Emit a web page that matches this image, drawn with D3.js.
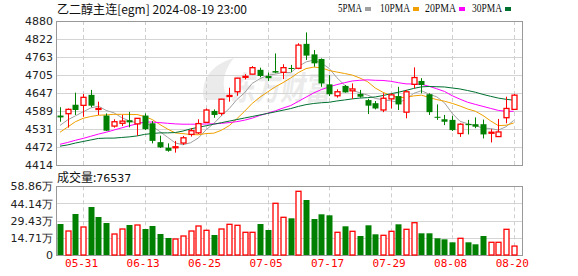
<!DOCTYPE html>
<html><head><meta charset="utf-8">
<script src="https://cdn.jsdelivr.net/npm/d3@7"></script>
<style>body{margin:0;background:#fff;} svg{display:block;}</style>
</head><body>
<svg id="c" width="578" height="276"></svg>
<script>
const dates = ["05-28","05-29","05-30","05-31","06-03","06-04","06-05","06-06","06-07","06-11","06-12","06-13","06-14","06-17","06-18","06-19","06-20","06-21","06-24","06-25","06-26","06-27","06-28","07-01","07-02","07-03","07-04","07-05","07-08","07-09","07-10","07-11","07-12","07-15","07-16","07-17","07-18","07-19","07-22","07-23","07-24","07-25","07-26","07-29","07-30","07-31","08-01","08-02","08-05","08-06","08-07","08-08","08-09","08-12","08-13","08-14","08-15","08-16","08-19","08-20"];
const opens = [4574,4580,4609,4607,4641,4594,4574,4540,4549,4559,4547,4574,4549,4488,4470,4470,4485,4513,4518,4552,4589,4581,4637,4651,4699,4708,4722,4702,4718,4714,4728,4727,4806,4772,4757,4675,4638,4670,4654,4644,4624,4614,4592,4628,4637,4585,4675,4686,4643,4570,4562,4560,4516,4547,4546,4546,4517,4506,4567,4594];
const highs = [4601,4597,4648,4644,4657,4619,4581,4562,4576,4586,4566,4581,4556,4509,4484,4492,4508,4533,4562,4597,4594,4628,4664,4696,4708,4734,4729,4713,4775,4740,4738,4808,4843,4786,4759,4705,4659,4673,4678,4657,4628,4621,4646,4646,4667,4657,4730,4695,4646,4610,4576,4573,4549,4560,4568,4561,4530,4563,4635,4644];
const lows = [4554,4535,4576,4570,4601,4576,4524,4535,4540,4536,4509,4527,4484,4469,4457,4454,4479,4506,4514,4550,4567,4574,4619,4638,4691,4707,4698,4686,4711,4692,4714,4724,4754,4732,4667,4637,4632,4648,4628,4632,4579,4594,4585,4597,4592,4565,4662,4646,4576,4560,4543,4524,4505,4513,4533,4500,4487,4505,4549,4592];
const closes = [4568,4594,4592,4633,4606,4597,4525,4554,4556,4552,4565,4530,4492,4471,4460,4473,4502,4525,4548,4592,4576,4627,4639,4695,4701,4729,4702,4695,4713,4729,4726,4802,4768,4743,4678,4643,4651,4649,4660,4635,4606,4597,4630,4641,4610,4651,4697,4673,4585,4567,4554,4527,4546,4543,4538,4513,4520,4521,4597,4640];
const volumes = [265600,205600,351300,239900,411200,325600,274200,179900,222800,257000,257000,222800,248500,179900,145700,137100,162800,205600,248500,211600,171400,222800,263000,254500,194500,194500,265600,214200,443000,323000,314400,545700,471200,308400,348700,340100,194500,245900,203000,162800,254500,177300,168800,203000,263000,220200,276700,185900,185900,143100,134500,108800,143100,108800,91700,162800,108800,108800,220200,76537];
const ma5 = [4542,4560,4573,4586,4598.6,4604.4,4590.6,4583,4567.6,4556.8,4550.4,4551.4,4539,4522,4503.6,4485.2,4479.6,4486.2,4501.6,4528,4548.6,4573.6,4596.4,4625.8,4647.6,4678.2,4693.2,4704.4,4708,4713.6,4713,4733,4747.6,4753.6,4743.4,4726.8,4696.6,4672.8,4656.2,4647.6,4640.2,4629.4,4625.6,4621.8,4616.8,4625.8,4645.8,4654.4,4643.2,4634.6,4615.2,4581.2,4555.8,4547.4,4541.6,4533.4,4532,4527,4537.8,4558.2];
const ma10 = [4520,4537,4554,4565,4571,4575,4576,4578,4578,4577.7,4577.4,4571,4561,4544.8,4530.2,4517.8,4515.5,4512.6,4511.8,4515.8,4516.9,4526.6,4541.3,4563.7,4587.8,4613.4,4633.4,4650.4,4666.9,4680.6,4695.6,4713.1,4726,4730.8,4728.5,4719.9,4714.8,4710.2,4704.9,4695.5,4683.5,4663,4649.2,4639,4632.2,4633,4637.6,4640,4632.5,4625.7,4620.5,4613.5,4605.1,4595.3,4588.1,4574.3,4556.6,4541.4,4542.6,4549.9];
const ma20 = [4481,4487,4494,4500,4507,4514,4520,4527,4534,4541,4547,4553,4553,4551,4549,4547,4546,4546,4546,4546.8,4547.2,4548.8,4551.2,4554.3,4559,4565.6,4574.5,4581.5,4589.4,4598.2,4606.3,4619.9,4633.7,4647.3,4658.2,4666.7,4674.1,4680.3,4685.9,4688.1,4689.6,4688.1,4687.6,4684.9,4680.4,4676.5,4676.2,4675.1,4668.7,4660.6,4652,4638.3,4627.2,4617.2,4610.2,4603.7,4597.1,4590.7,4587.6,4587.8];
const ma30 = [4475,4479,4485,4490,4495,4500,4501,4501,4503,4505,4508,4513,4516,4518,4518,4519,4524,4531,4536,4541,4546,4551,4556,4561,4566,4571,4576,4581,4586,4591.4,4596.6,4603.6,4609.4,4613.1,4615.5,4617,4621.2,4624.4,4627.9,4630.6,4632,4634.2,4638.8,4644.5,4649.5,4655.4,4661.9,4666.9,4668.1,4667.3,4666.5,4663.2,4660.1,4655,4649.6,4642.4,4636.3,4630.5,4626.7,4623.7];
const priceTicks = [4414,4472.25,4530.5,4588.75,4647,4705.25,4763.5,4821.75,4880];
const priceTickLabels = ["4414","4472","4531","4589","4647","4705","4763","4822","4880"];
const volTicks = [0,147150,294300,441450,588600];
const volTickLabels = ["0","14.71万","29.43万","44.14万","58.86万"];
const dateLabels = ["05-31","06-13","06-25","07-05","07-17","07-29","08-08","08-20"];
const maNames = ["5PMA","10PMA","20PMA","30PMA"];
const maColors = ["#a0a0a0","#f0a000","#ff00ff","#007030"];
const titleText = "乙二醇主连[egm] 2024-08-19 23:00";
const volTitle = "成交量:";
const lastVolume = "76537";

const svg = d3.select("#c");
const pL = 56, pR = 522, pT = 21, pB = 165;
const vT = 186.3, vB = 255;
const RED = "#ff0000", GREEN = "#008000";

const x = d3.scalePoint().domain(dates).range([60, 513.7]);
const y = d3.scaleLinear().domain([4414, 4880]).range([pB, pT]);
const yv = d3.scaleLinear().domain([0, 588600]).range([vB, vT]);

// watermark
const wm = svg.append("g");
wm.append("text").attr("x", 232).attr("y", 100).attr("font-family", "Noto Sans CJK SC").attr("font-weight", "bold")
  .attr("font-size", 33).attr("fill", "#ebebeb").attr("textLength", 100).attr("lengthAdjust", "spacingAndGlyphs")
  .attr("transform", "skewX(-8) translate(12,0)").text("东方财富");
wm.append("path").attr("d", "M204,100 C200,80 212,64 234,58 C224,70 220,84 228,100 Z").attr("fill", "#ebebeb");

// grids
function grid(yScale, ticks, top, bot) {
  svg.append("g").selectAll("line").data(ticks).join("line")
    .attr("x1", pL).attr("x2", pR)
    .attr("y1", d => Math.round(yScale(d)) + 0.5).attr("y2", d => Math.round(yScale(d)) + 0.5)
    .attr("stroke", "#d4d4d4").attr("stroke-width", 1);
  svg.append("g").selectAll("line").data(dateLabels).join("line")
    .attr("x1", d => Math.round(x(d)) + 0.5).attr("x2", d => Math.round(x(d)) + 0.5)
    .attr("y1", top).attr("y2", bot)
    .attr("stroke", "#cfcfcf").attr("stroke-dasharray", "4,3");
}
grid(y, priceTicks, pT, pB);
grid(yv, volTicks, vT, vB);

// frames
svg.append("rect").attr("x", pL + 0.5).attr("y", pT + 0.5).attr("width", pR - pL).attr("height", pB - pT)
  .attr("fill", "none").attr("stroke", "#999");
svg.append("rect").attr("x", pL + 0.5).attr("y", Math.round(vT) + 0.5).attr("width", pR - pL).attr("height", vB - Math.round(vT))
  .attr("fill", "none").attr("stroke", "#999");

// axes
const yAxis = d3.axisLeft(y).tickValues(priceTicks).tickFormat((d, i) => priceTickLabels[i]).tickSize(0).tickPadding(3);
const ga = svg.append("g").attr("transform", `translate(${pL},0)`).call(yAxis);
ga.select(".domain").remove();
ga.selectAll("text").attr("font-family", "DejaVu Sans").attr("font-size", 11).attr("fill", "#222");

const vAxis = d3.axisLeft(yv).tickValues(volTicks).tickFormat((d, i) => volTickLabels[i]).tickSize(0).tickPadding(3);
const gv = svg.append("g").attr("transform", `translate(${pL},0)`).call(vAxis);
gv.select(".domain").remove();
gv.selectAll("text").attr("font-family", "DejaVu Sans").attr("font-size", 11).attr("fill", "#222");

const xAxis = d3.axisBottom(x).tickValues(dateLabels).tickSize(0).tickPadding(4);
const gx = svg.append("g").attr("transform", `translate(-2,${vB})`).call(xAxis);
gx.select(".domain").remove();
gx.selectAll("text").attr("font-family", "DejaVu Sans Mono").attr("font-size", 11).attr("fill", RED);

// MA lines
const mas = [ma5, ma10, ma20, ma30];
mas.forEach((arr, k) => {
  const line = d3.line().x((d, i) => x(dates[i])).y(d => y(d));
  svg.append("path").attr("d", line(arr)).attr("fill", "none").attr("stroke", maColors[k]).attr("stroke-width", 1);
});

// candles
const bw = 5;
const cg = svg.append("g");
dates.forEach((d, i) => {
  const col = closes[i] > opens[i] ? RED : GREEN;
  const cx = Math.round(x(d)) + 0.5;
  const yTop = y(Math.max(opens[i], closes[i])), yBot = y(Math.min(opens[i], closes[i]));
  const h = Math.max(1, yBot - yTop);
  if (col === RED) {
    cg.append("line").attr("x1", cx).attr("x2", cx).attr("y1", y(highs[i])).attr("y2", yTop).attr("stroke", col);
    cg.append("line").attr("x1", cx).attr("x2", cx).attr("y1", yBot).attr("y2", y(lows[i])).attr("stroke", col);
    cg.append("rect").attr("x", cx - bw / 2).attr("y", yTop).attr("width", bw).attr("height", h)
      .attr("fill", "#fff").attr("stroke", col).attr("stroke-width", 1.3);
  } else {
    cg.append("line").attr("x1", cx).attr("x2", cx).attr("y1", y(highs[i])).attr("y2", y(lows[i])).attr("stroke", col);
    cg.append("rect").attr("x", cx - bw / 2 - 0.5).attr("y", yTop).attr("width", bw + 1).attr("height", h)
      .attr("fill", col);
  }
});

// volume bars
const vg = svg.append("g");
dates.forEach((d, i) => {
  const upv = i === 0 ? closes[i] >= opens[i] : closes[i] >= closes[i - 1];
  const cx = Math.round(x(d)) + 0.5;
  const top = yv(volumes[i]);
  if (upv) {
    vg.append("rect").attr("x", cx - bw / 2).attr("y", top).attr("width", bw).attr("height", vB - top)
      .attr("fill", "#fff").attr("stroke", RED).attr("stroke-width", 1.3);
  } else {
    vg.append("rect").attr("x", cx - bw / 2 - 0.5).attr("y", top).attr("width", bw + 1).attr("height", vB - top)
      .attr("fill", GREEN);
  }
});

// title
svg.append("text").attr("x", 57).attr("y", 14).attr("font-family", "Noto Sans CJK SC, DejaVu Sans Mono")
  .attr("font-size", 12).attr("fill", "#111").attr("textLength", 190).attr("lengthAdjust", "spacingAndGlyphs").text(titleText);

// legend
const legX = [338, 380, 425, 472];
const legW = [24, 30, 31, 30];
maNames.forEach((n, k) => {
  svg.append("text").attr("x", legX[k]).attr("y", 12).attr("font-family", "Liberation Serif")
    .attr("font-size", 13).attr("fill", "#111").attr("textLength", legW[k]).attr("lengthAdjust", "spacingAndGlyphs").text(n);
  svg.append("rect").attr("x", legX[k] + legW[k] + 3).attr("y", 7).attr("width", 6).attr("height", 4).attr("fill", maColors[k]);
});

// volume title
const vt = svg.append("text").attr("x", 57).attr("y", 182).attr("font-family", "Noto Sans CJK SC").attr("font-size", 12).attr("fill", "#111");
vt.append("tspan").text(volTitle);
vt.append("tspan").attr("font-family", "DejaVu Sans").attr("font-size", 11).text(lastVolume);
</script>
</body></html>
